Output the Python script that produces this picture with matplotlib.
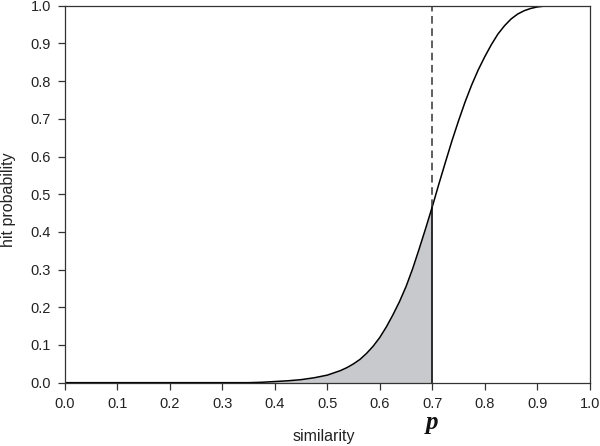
import numpy as np
import matplotlib.pyplot as plt

# hit probability vs similarity
similarity = [0.0, 0.1, 0.2, 0.3, 0.35, 0.375, 0.4, 0.425, 0.45, 0.475,
              0.5, 0.5125, 0.525, 0.5375, 0.55, 0.5625, 0.575, 0.5875,
              0.6, 0.6125, 0.625, 0.6375, 0.65, 0.6625, 0.675, 0.6875,
              0.7, 0.7125, 0.725, 0.7375, 0.75, 0.7625, 0.775, 0.7875,
              0.8, 0.8125, 0.825, 0.8375, 0.85, 0.8625, 0.875, 0.8875,
              0.9, 0.9125, 0.925, 0.95, 1.0]
hit_prob = [0.0, 0.0, 0.0, 0.0, 0.0, 0.001, 0.003, 0.005, 0.008, 0.013,
            0.02, 0.026, 0.032, 0.04, 0.05, 0.062, 0.078, 0.097,
            0.12, 0.148, 0.18, 0.215, 0.255, 0.302, 0.355, 0.41,
            0.467, 0.527, 0.585, 0.642, 0.695, 0.745, 0.79, 0.83,
            0.865, 0.897, 0.925, 0.947, 0.965, 0.978, 0.987, 0.993,
            0.997, 0.999, 1.0, 1.0, 1.0]
threshold = 0.7
x_ticks = [0.0, 0.1, 0.2, 0.3, 0.4, 0.5, 0.6, 0.7, 0.8, 0.9, 1.0]
y_ticks = [0.0, 0.1, 0.2, 0.3, 0.4, 0.5, 0.6, 0.7, 0.8, 0.9, 1.0]

plt.rcParams['font.family'] = ['Liberation Sans', 'DejaVu Sans']

fig = plt.figure(figsize=(6, 4.46), dpi=100)
ax = fig.add_axes([0.108, 0.142, 0.875, 0.845])

x = np.array(similarity)
y = np.array(hit_prob)
below = x <= threshold
ax.fill_between(x[below], 0, y[below], color='#c8c9cc', lw=0)
ax.plot(x, y, color='black', lw=1.1)

p_val = y[x == threshold][0]
ax.plot([threshold, threshold], [0, p_val], color='black', lw=1.1)
ax.plot([threshold, threshold], [p_val, 1.0], color='#333333', lw=1.1,
        dashes=(5, 3))

ax.set_xlim(0, 1)
ax.set_ylim(0, 1)
ax.set_xticks(x_ticks)
ax.set_yticks(y_ticks)
ax.set_xticklabels(['%.1f' % t for t in x_ticks])
ax.set_yticklabels(['%.1f' % t for t in y_ticks])
ax.tick_params(direction='out', length=5, width=0.9, color='#333333',
               labelsize=10.5, labelcolor='#222222', pad=5,
               top=False, right=False)
for s in ax.spines.values():
    s.set_color('#333333')
    s.set_linewidth(0.9)

ax.set_xlabel('similarity', fontsize=11.5, color='#222222', va='top')
ax.xaxis.set_label_coords(0.493, -0.123)

# y label placed in figure coords
fig.text(9 / 600, 1 - 200 / 446, 'hit probability', rotation=90,
         ha='center', va='center', fontsize=11.5, color='#222222')

ax.text(threshold, -0.107, 'p', transform=ax.get_xaxis_transform(),
        ha='center', va='center', fontsize=18, fontweight='bold',
        fontstyle='italic', family='Liberation Serif', color='#111111')

fig.savefig('out.png', dpi=100)
